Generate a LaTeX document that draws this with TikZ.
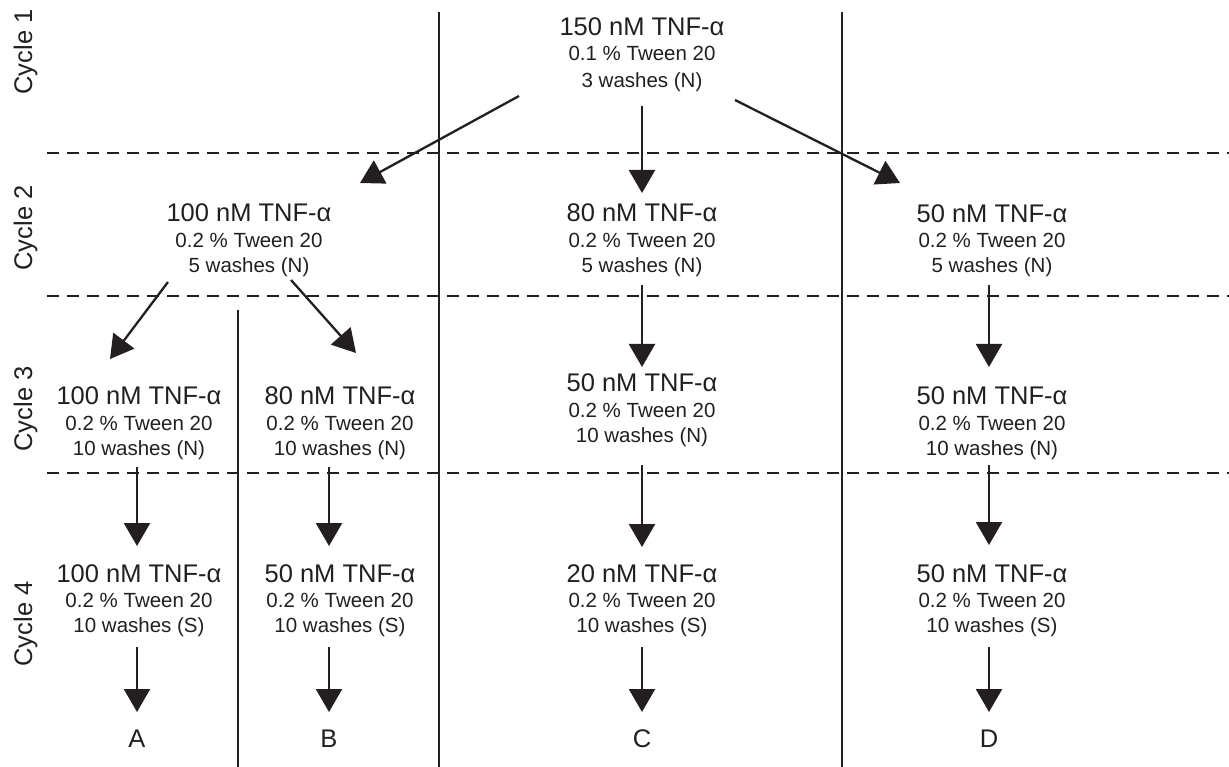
\documentclass[tikz,border=0pt]{standalone}
\usepackage{fontspec}
\setmainfont{Liberation Sans}
\usetikzlibrary{arrows.meta,calc}
\definecolor{ink}{HTML}{231F20}
\begin{document}
\begin{tikzpicture}[x=1pt,y=-1pt,
  big/.style={font=\fontsize{25.5}{30}\selectfont, text=ink, inner sep=0pt, text height=18.4pt, text depth=0pt},
  small/.style={font=\fontsize{20.5}{24}\selectfont, text=ink, inner sep=0pt, text height=14.8pt, text depth=0pt},
  cyc/.style={big, rotate=90},
  arr/.style={draw=ink, line width=2.3pt, -{Triangle[length=23pt,width=26pt]}},
  sep/.style={draw=ink, line width=2.3pt},
  row/.style={draw=ink, line width=2.6pt, dash pattern=on 12pt off 8pt}]
\fill[white] (0,0) rectangle (1229,767);
\useasboundingbox (0,0) rectangle (1229,767);

% grid lines
\draw[sep] (439,12) -- (439,767);
\draw[sep] (842,12) -- (842,767);
\draw[sep] (238,310) -- (238,767);
\draw[row] (47,153) -- (1229,153);
\draw[row] (47,296) -- (1229,296);
\draw[row] (47,473) -- (1229,473);

% cycle labels
\node[cyc] (cy1) at (23,52) {Cycle 1};
\node[cyc] (cy2) at (23,228) {Cycle 2};
\node[cyc] (cy3) at (23,409) {Cycle 3};
\node[cyc] (cy4) at (23,624) {Cycle 4};

% cycle 1
\node[big]   (t1) at (642,26) {150 nM TNF-α};
\node[small] (t2) at (642,53) {0.1 \% Tween 20};
\node[small] (t3) at (642,80) {3 washes (N)};

% cycle 2
\node[big]   (l1) at (249,212) {100 nM TNF-α};
\node[small] (l2) at (249,240) {0.2 \% Tween 20};
\node[small] (l3) at (249,265) {5 washes (N)};
\node[big]   (m1) at (642,212) {80 nM TNF-α};
\node[small] (m2) at (642,240) {0.2 \% Tween 20};
\node[small] (m3) at (642,265) {5 washes (N)};
\node[big]   (r1) at (992,213) {50 nM TNF-α};
\node[small] (r2) at (992,240) {0.2 \% Tween 20};
\node[small] (r3) at (992,265) {5 washes (N)};

% cycle 3
\node[big]   (a1) at (139,395) {100 nM TNF-α};
\node[small] (a2) at (139,423) {0.2 \% Tween 20};
\node[small] (a3) at (139,448) {10 washes (N)};
\node[big]   (b1) at (340,395) {80 nM TNF-α};
\node[small] (b2) at (340,423) {0.2 \% Tween 20};
\node[small] (b3) at (340,448) {10 washes (N)};
\node[big]   (c1) at (642,382) {50 nM TNF-α};
\node[small] (c2) at (642,410) {0.2 \% Tween 20};
\node[small] (c3) at (642,435) {10 washes (N)};
\node[big]   (d1) at (992,395) {50 nM TNF-α};
\node[small] (d2) at (992,423) {0.2 \% Tween 20};
\node[small] (d3) at (992,448) {10 washes (N)};

% cycle 4
\node[big]   (e1) at (139,573) {100 nM TNF-α};
\node[small] (e2) at (139,600) {0.2 \% Tween 20};
\node[small] (e3) at (139,625) {10 washes (S)};
\node[big]   (f1) at (340,573) {50 nM TNF-α};
\node[small] (f2) at (340,600) {0.2 \% Tween 20};
\node[small] (f3) at (340,625) {10 washes (S)};
\node[big]   (g1) at (642,573) {20 nM TNF-α};
\node[small] (g2) at (642,600) {0.2 \% Tween 20};
\node[small] (g3) at (642,625) {10 washes (S)};
\node[big]   (h1) at (992,573) {50 nM TNF-α};
\node[small] (h2) at (992,600) {0.2 \% Tween 20};
\node[small] (h3) at (992,625) {10 washes (S)};

% outcomes
\node[big] (oa) at (137,738) {A};
\node[big] (ob) at (329,738) {B};
\node[big] (oc) at (642,738) {C};
\node[big] (od) at (989,738) {D};

% arrows
\draw[arr] ($(t3)+(-123,16)$) -- ($(l1)+(111,-29)$);
\draw[arr] ($(t3)+(0,26)$) -- ($(m1)+(0,-19)$);
\draw[arr] ($(t3)+(93,20)$) -- ($(r1)+(-92,-30)$);
\draw[arr] ($(l3)+(-81,17)$) -- ($(a1)+(-29,-36)$);
\draw[arr] ($(l3)+(42,15)$) -- ($(b1)+(16,-42)$);
\draw[arr] ($(m3)+(0,20)$) -- ($(c1)+(0,-15)$);
\draw[arr] ($(r3)+(-3,20)$) -- ($(d1)+(-3,-28)$);
\draw[arr] ($(a3)+(-2,19)$) -- ($(e1)+(-2,-27)$);
\draw[arr] ($(b3)+(-11,19)$) -- ($(f1)+(-11,-27)$);
\draw[arr] ($(c3)+(0,30)$) -- ($(g1)+(0,-26)$);
\draw[arr] ($(d3)+(-3,17)$) -- ($(h1)+(-3,-28)$);
\draw[arr] ($(e3)+(-2,22)$) -- ($(oa)+(0,-26)$);
\draw[arr] ($(f3)+(-11,22)$) -- ($(ob)+(0,-26)$);
\draw[arr] ($(g3)+(0,22)$) -- ($(oc)+(0,-26)$);
\draw[arr] ($(h3)+(-3,22)$) -- ($(od)+(0,-26)$);
\end{tikzpicture}
\end{document}
